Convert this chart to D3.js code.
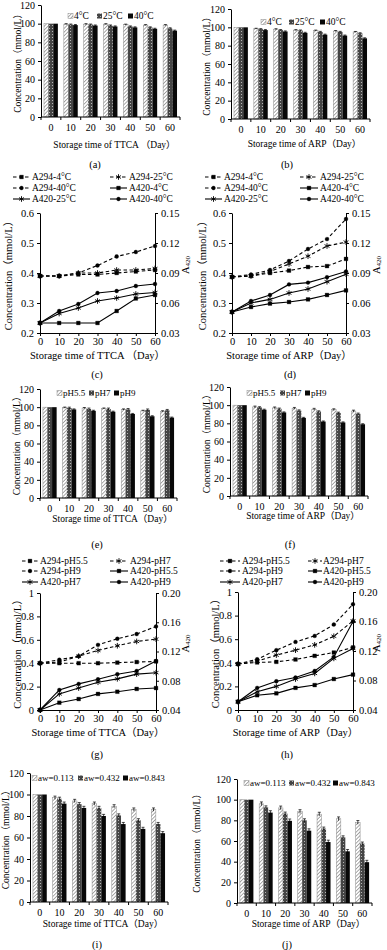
<!DOCTYPE html>
<html>
<head>
<meta charset="utf-8">
<script src="https://cdn.jsdelivr.net/npm/d3@7"></script>
<style>
  body { margin: 0; background: #fff; }
  svg text { fill: #000; }
</style>
</head>
<body>
<svg id="fig" width="387" height="950"></svg>
<script>
var FONT = '"Liberation Serif", "Noto Sans CJK SC", serif';

// ---- shared categories / tick labels
var days = [0, 10, 20, 30, 40, 50, 60];
var tempNames = ["4°C", "25°C", "40°C"];
var phNames = ["pH5.5", "pH7", "pH9"];
var awNames = ["aw=0.113", "aw=0.432", "aw=0.843"];
var barTicks = [0, 20, 40, 60, 80, 100, 120];
var leftTicksTemp = [0.2, 0.3, 0.4, 0.5, 0.6];
var rightTicksTemp = [0.03, 0.06, 0.09, 0.12, 0.15];
var leftTicksPh = [0, 0.2, 0.4, 0.6, 0.8, 1];
var rightTicksPh = [0.04, 0.08, 0.12, 0.16, 0.20];

// ---- (a) TTCA, temperature (mmol/L)
var ttcaT4 = [100, 99.5, 99.5, 99.5, 99, 98.5, 98.5];
var ttcaT25 = [100, 99, 99, 98, 97, 96, 95];
var ttcaT40 = [100, 98.5, 98, 97, 96, 94.5, 92.5];
var ttcaTErr = [0.5, 0.6, 0.6];

// ---- (b) ARP, temperature
var arpT4 = [100, 98.5, 98, 97, 96.5, 96, 95];
var arpT25 = [100, 98, 97, 96.5, 95, 95, 93.5];
var arpT40 = [100, 97, 95.5, 94, 92, 91, 88];
var arpTErr = [0.5, 0.6, 0.6];

// ---- (c) TTCA, temperature, absorbance
var ttcaA294T4 = [0.39, 0.39, 0.395, 0.395, 0.40, 0.405, 0.41];
var ttcaA294T25 = [0.39, 0.39, 0.40, 0.40, 0.41, 0.41, 0.415];
var ttcaA294T40 = [0.39, 0.39, 0.40, 0.425, 0.455, 0.47, 0.49];
var ttcaA420T4 = [0.040, 0.040, 0.040, 0.040, 0.052, 0.0645, 0.068];
var ttcaA420T25 = [0.040, 0.0495, 0.055, 0.062, 0.065, 0.069, 0.0705];
var ttcaA420T40 = [0.040, 0.052, 0.059, 0.070, 0.072, 0.077, 0.079];

// ---- (d) ARP, temperature, absorbance
var arpA294T4 = [0.387, 0.39, 0.40, 0.408, 0.42, 0.423, 0.447];
var arpA294T25 = [0.387, 0.39, 0.405, 0.43, 0.456, 0.49, 0.503];
var arpA294T40 = [0.387, 0.395, 0.41, 0.44, 0.48, 0.513, 0.58];
var arpA420T4 = [0.051, 0.056, 0.0594, 0.061, 0.0636, 0.068, 0.0726];
var arpA420T25 = [0.051, 0.060, 0.0636, 0.070, 0.074, 0.0813, 0.0888];
var arpA420T40 = [0.051, 0.062, 0.068, 0.0786, 0.0804, 0.0858, 0.0915];

// ---- (e) TTCA, pH
var ttcaP55 = [100, 99.5, 99, 98.5, 97.5, 96, 95.5];
var ttcaP7 = [100, 99, 98, 98, 97.5, 97, 96.5];
var ttcaP9 = [100, 97.5, 96, 95, 92.5, 90, 88.5];
var ttcaPErr = [0.6, 1.0, 0.6];

// ---- (f) ARP, pH
var arpP55 = [100, 98, 97, 96.5, 95.5, 95, 93.5];
var arpP7 = [100, 97.5, 96, 94, 93, 91.5, 90.5];
var arpP9 = [100, 95, 92, 86, 82, 81, 79];
var arpPErr = [1.0, 0.8, 0.6];

// ---- (g) TTCA, pH, absorbance
var ttcaA294P55 = [0.40, 0.40, 0.40, 0.40, 0.405, 0.41, 0.415];
var ttcaA294P7 = [0.40, 0.41, 0.46, 0.509, 0.549, 0.586, 0.606];
var ttcaA294P9 = [0.40, 0.43, 0.46, 0.557, 0.609, 0.649, 0.714];
var ttcaA420P55 = [0.04, 0.050, 0.055, 0.062, 0.065, 0.0688, 0.070];
var ttcaA420P7 = [0.04, 0.062, 0.070, 0.078, 0.0826, 0.089, 0.091];
var ttcaA420P9 = [0.04, 0.0674, 0.0757, 0.082, 0.089, 0.0934, 0.107];

// ---- (h) ARP, pH, absorbance
var arpA294P55 = [0.39, 0.403, 0.408, 0.428, 0.459, 0.487, 0.53];
var arpA294P7 = [0.39, 0.414, 0.465, 0.507, 0.552, 0.625, 0.755];
var arpA294P9 = [0.39, 0.43, 0.507, 0.577, 0.628, 0.724, 0.896];
var arpA420P55 = [0.0512, 0.060, 0.0626, 0.070, 0.0738, 0.082, 0.088];
var arpA420P7 = [0.0512, 0.0648, 0.072, 0.082, 0.0896, 0.110, 0.1234];
var arpA420P9 = [0.0512, 0.070, 0.079, 0.084, 0.093, 0.112, 0.160];

// ---- (i) TTCA, water activity
var ttcaW1 = [100, 97, 94, 91.5, 89, 86, 86];
var ttcaW4 = [100, 96, 91, 87.5, 80.5, 76, 72.5];
var ttcaW8 = [100, 91.5, 87.5, 80, 72.5, 68, 64];
var ttcaWErr = [1.5, 1.5, 1.5];

// ---- (j) ARP, water activity
var arpW1 = [100, 96, 92, 88.5, 86, 81.5, 78];
var arpW4 = [100, 92.5, 86.5, 80, 72, 63.5, 57.5];
var arpW8 = [100, 87.5, 79.5, 70, 59, 50, 39.5];
var arpWErr = [1.8, 1.5, 1.8];

var svg = d3.select("#fig");

// fill patterns for the three bar series
var defs = svg.append("defs");
var p1 = defs.append("pattern").attr("id", "hatch").attr("width", 2.6).attr("height", 2.6)
  .attr("patternUnits", "userSpaceOnUse").attr("patternTransform", "rotate(45)");
p1.append("rect").attr("width", 2.6).attr("height", 2.6).attr("fill", "#fff");
p1.append("line").attr("x1", 0).attr("y1", 0).attr("x2", 0).attr("y2", 2.6)
  .attr("stroke", "#7a7a7a").attr("stroke-width", 1.3);
var p2 = defs.append("pattern").attr("id", "cross").attr("width", 3).attr("height", 3)
  .attr("patternUnits", "userSpaceOnUse");
p2.append("rect").attr("width", 3).attr("height", 3).attr("fill", "#454545");
p2.append("rect").attr("x", 1).attr("y", 1).attr("width", 1).attr("height", 1).attr("fill", "#b5b5b5");
var fills = ["url(#hatch)", "url(#cross)", "#080808"];

function styleAxis(sel, fs) {
  sel.attr("font-family", FONT).attr("font-size", fs);
  sel.selectAll("path, line").attr("stroke", "#000").attr("stroke-width", 1);
  sel.selectAll("text").attr("fill", "#000");
}

function caption(txt, x, y) {
  svg.append("text").attr("x", x).attr("y", y).attr("text-anchor", "middle")
    .attr("dominant-baseline", "central").attr("font-family", FONT).attr("font-size", 10.5)
    .text(txt);
}

function drawBars(cfg, series, names, errs) {
  var g = svg.append("g");
  var x = d3.scaleBand().domain(days).range([cfg.left, cfg.right])
    .paddingInner(0.3).paddingOuter(0.15);
  var xs = d3.scaleBand().domain(d3.range(series.length)).range([0, x.bandwidth()]);
  var y = d3.scaleLinear().domain([0, 120]).range([cfg.bottom, cfg.top]);

  series.forEach(function (vals, si) {
    var rows = vals.map(function (v, i) { return { day: days[i], v: v }; });
    g.selectAll(null).data(rows).enter().append("rect")
      .attr("x", function (d) { return x(d.day) + xs(si); })
      .attr("y", function (d) { return y(d.v); })
      .attr("width", xs.bandwidth())
      .attr("height", function (d) { return y(0) - y(d.v); })
      .attr("fill", fills[si])
      .attr("stroke", si == 0 ? "#8a8a8a" : "none")
      .attr("stroke-width", 0.5);
    // error bars
    var eb = g.selectAll(null).data(rows.filter(function (d) { return d.day > 0; })).enter()
      .append("g").attr("stroke", "#000").attr("stroke-width", 0.7);
    var cx = function (d) { return x(d.day) + xs(si) + xs.bandwidth() / 2; };
    eb.append("line")
      .attr("x1", cx).attr("x2", cx)
      .attr("y1", function (d) { return y(d.v - errs[si]); })
      .attr("y2", function (d) { return y(d.v + errs[si]); });
    eb.append("line")
      .attr("x1", function (d) { return cx(d) - 1.5; }).attr("x2", function (d) { return cx(d) + 1.5; })
      .attr("y1", function (d) { return y(d.v + errs[si]); })
      .attr("y2", function (d) { return y(d.v + errs[si]); });
  });

  // axes
  g.append("g").attr("transform", "translate(" + cfg.left + ",0)")
    .call(d3.axisLeft(y).tickValues(barTicks).tickSize(3).tickSizeOuter(0).tickPadding(3))
    .call(styleAxis, 10);
  var xa = g.append("g").attr("transform", "translate(0," + cfg.bottom + ")")
    .call(d3.axisBottom(x).tickSize(0).tickSizeOuter(0).tickPadding(7))
    .call(styleAxis, 10);
  xa.select(".domain").attr("d", "M" + cfg.left + ",0H" + cfg.right);
  var gap = (x.step() - x.bandwidth()) / 2;
  g.selectAll(null).data(days.concat(["end"])).enter().append("line")
    .attr("x1", function (d, i) { return i < days.length ? x(d) - gap : x(days[i - 1]) + x.bandwidth() + gap; })
    .attr("x2", function (d, i) { return i < days.length ? x(d) - gap : x(days[i - 1]) + x.bandwidth() + gap; })
    .attr("y1", cfg.bottom).attr("y2", cfg.bottom + 3)
    .attr("stroke", "#000");

  // titles
  g.append("text").attr("x", (cfg.left + cfg.right) / 2 + 4).attr("y", cfg.xLabY)
    .attr("text-anchor", "middle").attr("dominant-baseline", "central")
    .attr("font-family", FONT).attr("font-size", 9.5).text(cfg.xLab);
  g.append("text")
    .attr("transform", "translate(" + cfg.ylabX + "," + (cfg.top + cfg.bottom) / 2 + ") rotate(-90)")
    .attr("text-anchor", "middle").attr("dominant-baseline", "central")
    .attr("font-family", FONT).attr("font-size", 9.5).text("Concentration（mmol/L）");

  // legend
  names.forEach(function (n, i) {
    g.append("rect").attr("x", cfg.legX[i]).attr("y", cfg.legY - 2.5).attr("width", 5).attr("height", 5)
      .attr("fill", fills[i]).attr("stroke", i == 0 ? "#8a8a8a" : "none").attr("stroke-width", 0.5);
    g.append("text").attr("x", cfg.legX[i] + 6).attr("y", cfg.legY)
      .attr("dominant-baseline", "central").attr("font-family", FONT).attr("font-size", cfg.legFs || 9.5)
      .text(n);
  });
  caption(cfg.cap, cfg.capX, cfg.capY);
}

var markerTypes = [d3.symbolSquare, d3.symbolAsterisk, d3.symbolCircle];
var markerSizes = [14, 22, 12];

function marker(sel, k) {
  sel.attr("d", d3.symbol().type(markerTypes[k]).size(markerSizes[k]))
    .attr("fill", k == 1 ? "none" : "#000")
    .attr("stroke", "#000").attr("stroke-width", k == 1 ? 0.9 : 0.3);
}

function drawLines(cfg, a294, a420, names) {
  var g = svg.append("g");
  var x = d3.scaleLinear().domain([0, 60]).range([cfg.left, cfg.right]);
  var yL = d3.scaleLinear().domain(d3.extent(cfg.leftTicks)).range([cfg.bottom, cfg.top]);
  var yR = d3.scaleLinear().domain(d3.extent(cfg.rightTicks)).range([cfg.bottom, cfg.top]);

  function series(vals, scale, k, dashed) {
    var pts = vals.map(function (v, i) { return [x(days[i]), scale(v)]; });
    g.append("path").attr("d", d3.line()(pts)).attr("fill", "none")
      .attr("stroke", "#000").attr("stroke-width", 1.1)
      .attr("stroke-dasharray", dashed ? "3.5,2.5" : null);
    g.selectAll(null).data(pts).enter().append("path")
      .attr("transform", function (p) { return "translate(" + p[0] + "," + p[1] + ")"; })
      .call(marker, k);
  }
  a294.forEach(function (v, k) { series(v, yL, k, true); });
  a420.forEach(function (v, k) { series(v, yR, k, false); });

  g.append("g").attr("transform", "translate(" + cfg.left + ",0)")
    .call(d3.axisLeft(yL).tickValues(cfg.leftTicks).tickFormat(cfg.leftFmt)
      .tickSize(3).tickSizeOuter(0).tickPadding(3))
    .call(styleAxis, 10.5);
  g.append("g").attr("transform", "translate(" + cfg.right + ",0)")
    .call(d3.axisRight(yR).tickValues(cfg.rightTicks).tickFormat(d3.format(".2f"))
      .tickSize(3).tickSizeOuter(0).tickPadding(3))
    .call(styleAxis, 10.5);
  g.append("g").attr("transform", "translate(0," + cfg.bottom + ")")
    .call(d3.axisBottom(x).tickValues(days).tickSize(3).tickSizeOuter(0).tickPadding(2))
    .call(styleAxis, 10.5);

  g.append("text").attr("x", (cfg.left + cfg.right) / 2).attr("y", cfg.bottom + 22)
    .attr("text-anchor", "middle").attr("dominant-baseline", "central")
    .attr("font-family", FONT).attr("font-size", 10.5).text(cfg.xLab);
  g.append("text")
    .attr("transform", "translate(" + cfg.ylabX + "," + (cfg.top + cfg.bottom) / 2 + ") rotate(-90)")
    .attr("text-anchor", "middle").attr("dominant-baseline", "central")
    .attr("font-family", FONT).attr("font-size", 10.5).text("Concentration（mmol/L）");
  var rl = g.append("text")
    .attr("transform", "translate(" + cfg.yrLabX + "," + ((cfg.top + cfg.bottom) / 2 - 8) + ") rotate(-90)")
    .attr("text-anchor", "middle").attr("dominant-baseline", "central")
    .attr("font-family", FONT).attr("font-size", 10.5);
  rl.append("tspan").text("A");
  rl.append("tspan").attr("font-size", 7).attr("dy", 3).text("420");

  // legend: 3 rows x 2 columns
  var entries = [];
  ["A294-", "A420-"].forEach(function (pre, s) {
    names.forEach(function (n, k) { entries.push({ label: pre + n, k: k, dashed: s == 0 }); });
  });
  entries.forEach(function (e, i) {
    var col = cfg.legCols[i % 2], ry = cfg.legRows[Math.floor(i / 2)];
    g.append("line").attr("x1", col[0]).attr("x2", col[1]).attr("y1", ry).attr("y2", ry)
      .attr("stroke", "#000").attr("stroke-width", 1.1)
      .attr("stroke-dasharray", e.dashed ? "3.5,2.5" : null);
    g.append("path").attr("transform", "translate(" + (col[0] + col[1]) / 2 + "," + ry + ")")
      .call(marker, e.k);
    g.append("text").attr("x", col[2]).attr("y", ry).attr("dominant-baseline", "central")
      .attr("font-family", FONT).attr("font-size", 9.5).text(e.label);
  });
  caption(cfg.cap, cfg.capX, cfg.capY);
}

var fmtTemp = d3.format(".1f");
var fmtPh = d3.format("~g");

drawBars({ left: 41, right: 180, top: 5, bottom: 117, ylabX: 18, xLabY: 145, legY: 16,
  legX: [68, 97, 128], xLab: "Storage time of TTCA （Day）", cap: "(a)", capX: 95, capY: 164 },
  [ttcaT4, ttcaT25, ttcaT40], tempNames, ttcaTErr);
drawBars({ left: 231, right: 370, top: 9, bottom: 119, ylabX: 207, xLabY: 144, legY: 22,
  legX: [261, 289, 320], xLab: "Storage time of ARP（Day）", cap: "(b)", capX: 287, capY: 164 },
  [arpT4, arpT25, arpT40], tempNames, arpTErr);

drawLines({ left: 40, right: 155, top: 213, bottom: 333, leftTicks: leftTicksTemp, leftFmt: fmtTemp,
  rightTicks: rightTicksTemp, legRows: [177, 188, 199], legCols: [[13, 30, 32], [110, 127, 129]],
  ylabX: 8, yrLabX: 185, xLab: "Storage time of TTCA （Day）", cap: "(c)", capX: 97, capY: 374 },
  [ttcaA294T4, ttcaA294T25, ttcaA294T40], [ttcaA420T4, ttcaA420T25, ttcaA420T40], tempNames);
drawLines({ left: 232, right: 346, top: 213, bottom: 333, leftTicks: leftTicksTemp, leftFmt: fmtTemp,
  rightTicks: rightTicksTemp, legRows: [177, 188, 199], legCols: [[205, 222, 224], [300, 318, 320]],
  ylabX: 202, yrLabX: 376, xLab: "Storage time of ARP（Day）", cap: "(d)", capX: 290, capY: 374 },
  [arpA294T4, arpA294T25, arpA294T40], [arpA420T4, arpA420T25, arpA420T40], tempNames);

drawBars({ left: 40, right: 177, top: 389, bottom: 498, ylabX: 17, xLabY: 519, legY: 393, legFs: 9,
  legX: [57, 89, 114], xLab: "Storage time of TTCA（Day）", cap: "(e)", capX: 97, capY: 544 },
  [ttcaP55, ttcaP7, ttcaP9], phNames, ttcaPErr);
drawBars({ left: 230, right: 368, top: 387, bottom: 496, ylabX: 207, xLabY: 516, legY: 393, legFs: 9,
  legX: [247, 280, 305], xLab: "Storage time of ARP（Day）", cap: "(f)", capX: 290, capY: 544 },
  [arpP55, arpP7, arpP9], phNames, arpPErr);

drawLines({ left: 40, right: 156, top: 593, bottom: 710, leftTicks: leftTicksPh, leftFmt: fmtPh,
  rightTicks: rightTicksPh, legRows: [561, 571, 582], legCols: [[22, 38, 40], [110, 128, 130]],
  ylabX: 17, yrLabX: 185, xLab: "Storage time of TTCA（Day）", cap: "(g)", capX: 97, capY: 754 },
  [ttcaA294P55, ttcaA294P7, ttcaA294P9], [ttcaA420P55, ttcaA420P7, ttcaA420P9], phNames);
drawLines({ left: 238, right: 353, top: 592, bottom: 710, leftTicks: leftTicksPh, leftFmt: fmtPh,
  rightTicks: rightTicksPh, legRows: [561, 571, 582], legCols: [[220, 240, 242], [308, 322, 323]],
  ylabX: 215, yrLabX: 376, xLab: "Storage time of ARP（Day）", cap: "(h)", capX: 287, capY: 754 },
  [arpA294P55, arpA294P7, arpA294P9], [arpA420P55, arpA420P7, arpA420P9], phNames);

drawBars({ left: 30, right: 168, top: 773, bottom: 902, ylabX: 6, xLabY: 924, legY: 778, legFs: 9,
  legX: [32, 78, 123], xLab: "Storage time of TTCA（Day）", cap: "(i)", capX: 97, capY: 944 },
  [ttcaW1, ttcaW4, ttcaW8], awNames, ttcaWErr);
drawBars({ left: 237, right: 372, top: 779, bottom: 903, ylabX: 197, xLabY: 924, legY: 783, legFs: 9,
  legX: [244, 289, 333], xLab: "Storage time of ARP（Day）", cap: "(j)", capX: 287, capY: 944 },
  [arpW1, arpW4, arpW8], awNames, arpWErr);
</script>
</body>
</html>
